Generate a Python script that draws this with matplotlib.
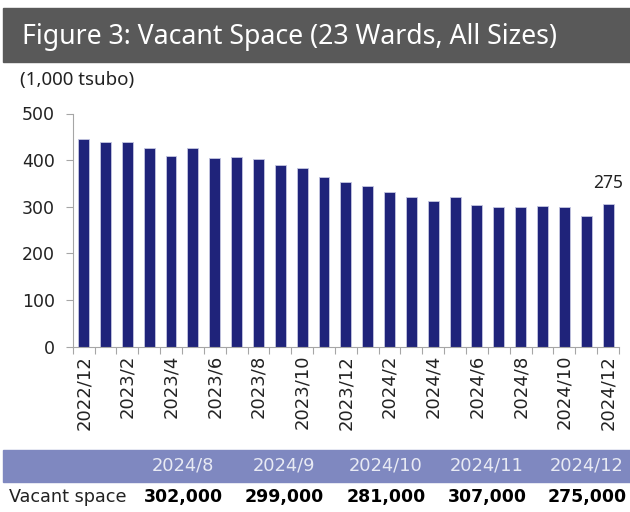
import matplotlib
matplotlib.use("Agg")
import matplotlib.pyplot as plt
import numpy as np

plt.rcParams['font.family'] = ['Noto Sans', 'DejaVu Sans']

## DATA
months = ['2022/12', '2023/1', '2023/2', '2023/3', '2023/4', '2023/5', '2023/6', '2023/7',
          '2023/8', '2023/9', '2023/10', '2023/11', '2023/12', '2024/1', '2024/2', '2024/3',
          '2024/4', '2024/5', '2024/6', '2024/7', '2024/8', '2024/9', '2024/10', '2024/11',
          '2024/12']
vacant = [445, 439, 439, 427, 409, 425, 404, 407, 402, 389, 382, 364, 352, 344, 331, 321,
          312, 321, 303, 299, 299, 301, 299, 280, 305]
last_label = '275'
table_months = ['2024/8', '2024/9', '2024/10', '2024/11', '2024/12']
table_values = ['302,000', '299,000', '281,000', '307,000', '275,000']
#

fig = plt.figure(figsize=(6.3, 5.12), dpi=100)

## TITLE BAND
fig.patches.append(plt.Rectangle((3/630, 1-62/512), 627/630, 54/512, transform=fig.transFigure,
                                 color='#595959', zorder=0))
fig.text(22/630, 1-37/512, 'Figure 3: Vacant Space (23 Wards, All Sizes)', color='white',
         fontsize=19.2, va='center', ha='left')
fig.text(20/630, 1-80/512, '(1,000 tsubo)', fontsize=13.5, va='center', ha='left', color='#222222')

## BAR CHART
ax = fig.add_axes([72.7/630, 1-346.5/512, (619-72.7)/630, (346.5-113.5)/512])
x = np.arange(len(months))
ax.bar(x, vacant, width=0.5, color='#1F237A', edgecolor='#C4C6E0', linewidth=0.6)
ax.set_xlim(-0.5, len(months)-0.5)
ax.set_ylim(0, 500)
ax.set_yticks(range(0, 501, 100))
ax.set_yticklabels([str(v) for v in range(0, 501, 100)], family='DejaVu Sans')
ax.tick_params(axis='y', labelsize=12.5, length=5, color='#A6A6A6', labelcolor='#222222', pad=8)
ax.set_xticks(np.arange(-0.5, len(months), 1))
ax.set_xticklabels([])
ax.tick_params(axis='x', which='major', length=5, color='#A6A6A6')
ax.set_xticks(x[::2], minor=True)
ax.set_xticklabels(months[::2], minor=True, rotation=90, fontsize=13, color='#222222',
                   family='DejaVu Sans')
ax.tick_params(axis='x', which='minor', length=0, pad=6)
for s in ['top', 'right']:
    ax.spines[s].set_visible(False)
for s in ['left', 'bottom']:
    ax.spines[s].set_color('#A6A6A6')
ax.annotate(last_label, (x[-1], vacant[-1]), xytext=(0, 9), textcoords='offset points',
            ha='center', va='bottom', fontsize=12.5, color='#222222')
#

## TABLE
fig.patches.append(plt.Rectangle((3/630, 1-482/512), 627/630, 32/512, transform=fig.transFigure,
                                 color='#7F88C0', zorder=0))
col_x = [183, 284, 386, 487, 587]
for cx, m, v in zip(col_x, table_months, table_values):
    fig.text(cx/630, 1-466/512, m, color='#E8EAF4', fontsize=12.9, ha='center', va='center',
             family='DejaVu Sans')
    fig.text(cx/630, 1-497/512, v, color='black', fontsize=12.5, ha='center', va='center',
             fontweight='bold', family='DejaVu Sans')
fig.text(9/630, 1-497/512, 'Vacant space', color='#222222', fontsize=12.7, ha='left', va='center',
         family='DejaVu Sans')

fig.savefig('out.png', dpi=100)
